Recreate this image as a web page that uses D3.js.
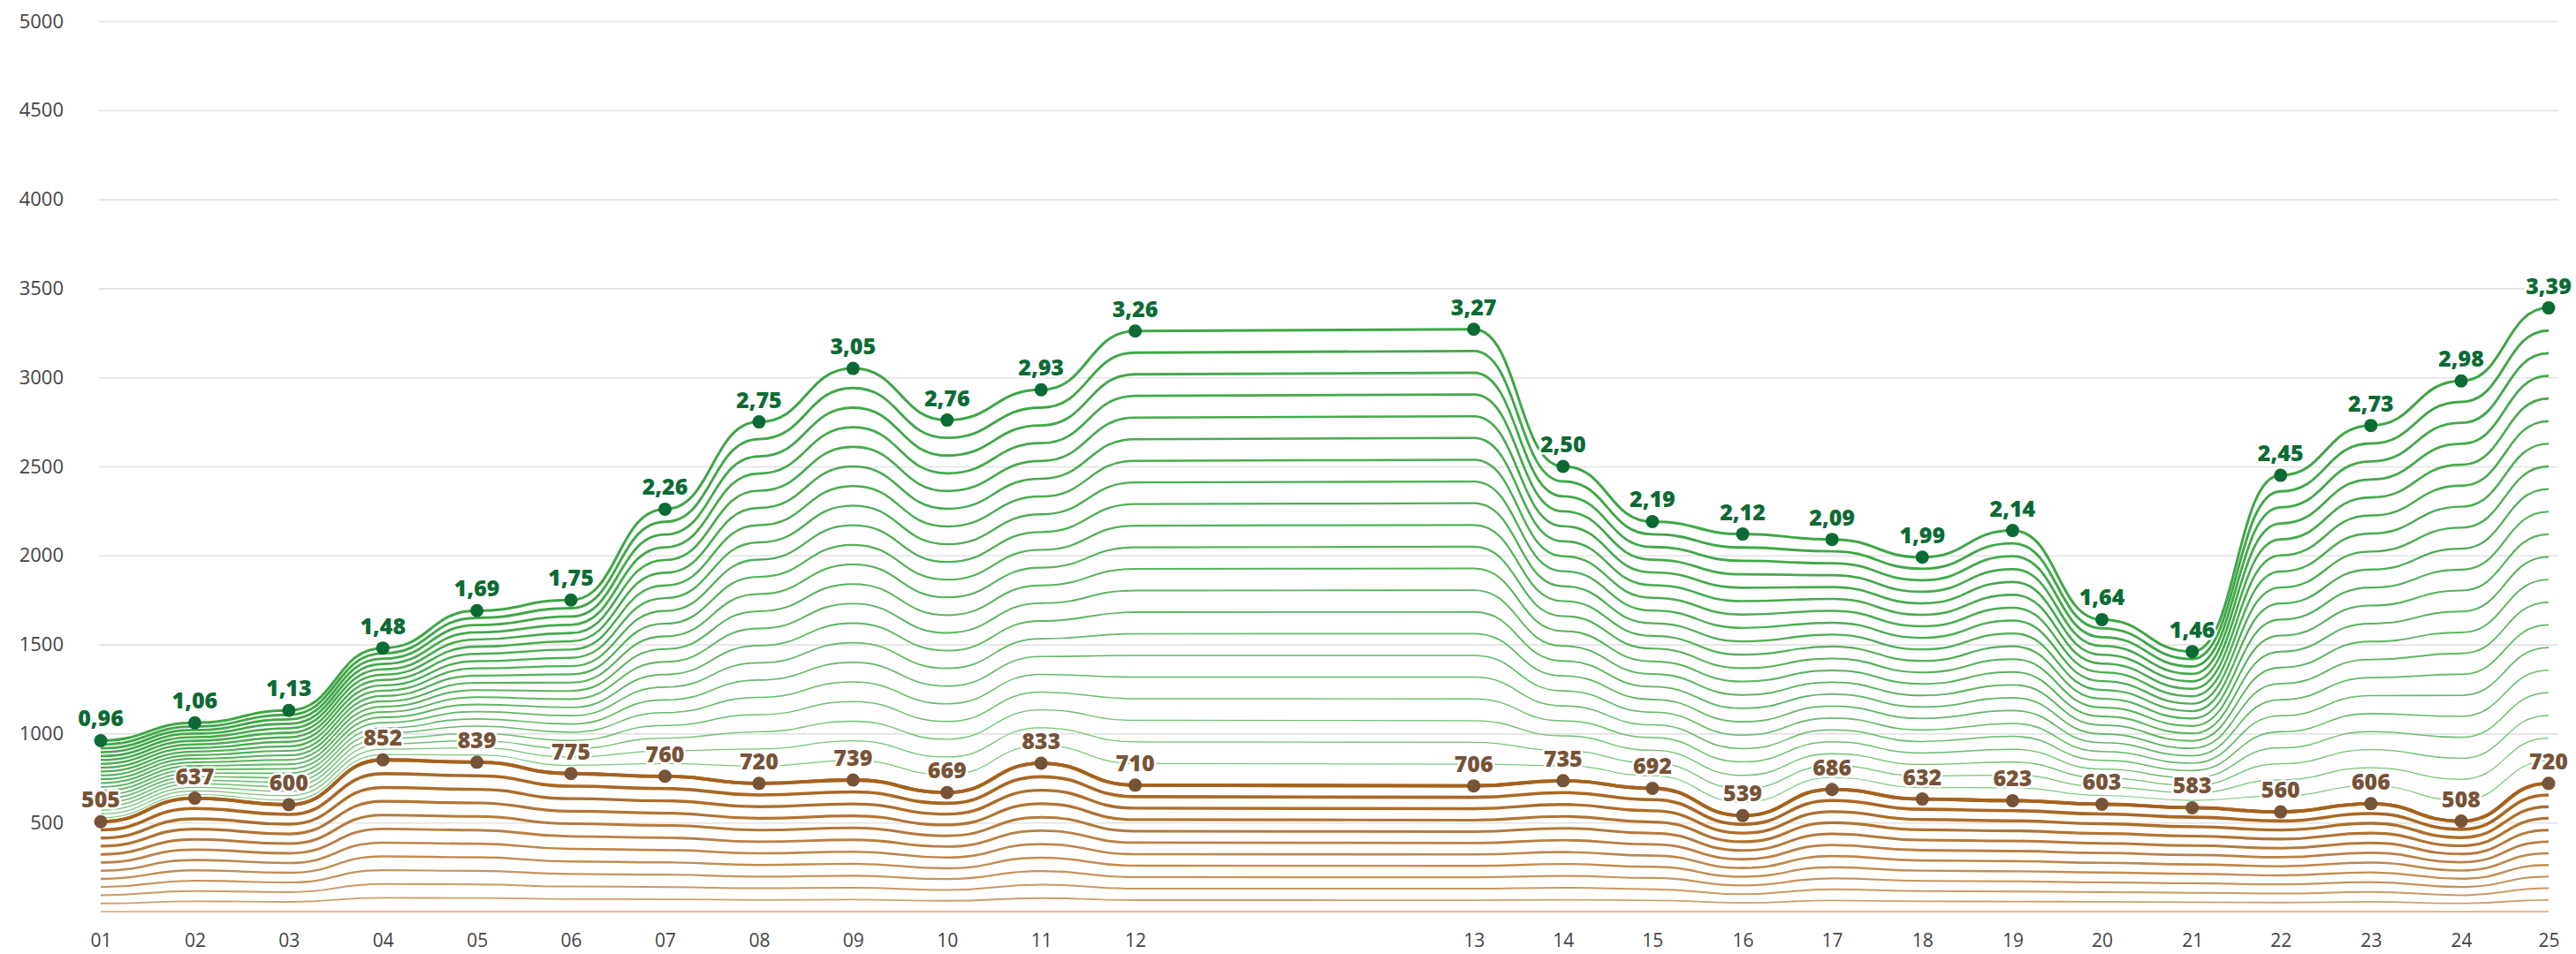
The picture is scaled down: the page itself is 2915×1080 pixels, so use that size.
<!DOCTYPE html>
<html>
<head>
<meta charset="utf-8">
<script src="https://cdn.jsdelivr.net/npm/d3@7"></script>
<style>
  body { margin: 0; background: #fff; }
  #chart text { font-family: "Open Sans", "DejaVu Sans", sans-serif; }
</style>
</head>
<body>
<div id="chart"></div>
<script>
// x categories and their (uneven) positions along the axis
const periods = ["01","02","03","04","05","06","07","08","09","10","11","12",
                 "13","14","15","16","17","18","19","20","21","22","23","24","25"];
const xPos = [0, 1, 2, 3, 4, 5, 6, 7, 8, 9, 10, 11,
              14.6, 15.55, 16.5, 17.46, 18.41, 19.37, 20.33, 21.28, 22.24, 23.18, 24.14, 25.1, 26.03];

// top (green) series, labelled in thousands
const greenTop = [0.96, 1.06, 1.13, 1.48, 1.69, 1.75, 2.26, 2.75, 3.05, 2.76, 2.93, 3.26,
                  3.27, 2.50, 2.19, 2.12, 2.09, 1.99, 2.14, 1.64, 1.46, 2.45, 2.73, 2.98, 3.39];
// lower (brown) series
const brownTop = [505, 637, 600, 852, 839, 775, 760, 720, 739, 669, 833, 710,
                  706, 735, 692, 539, 686, 632, 623, 603, 583, 560, 606, 508, 720];

const yTicks = [500, 1000, 1500, 2000, 2500, 3000, 3500, 4000, 4500, 5000];

const width = 2915;
const height = 1080;

const svg = d3.select("#chart")
              .append("svg")
              .attr("width", width)
              .attr("height", height);

const x = d3.scaleLinear()
            .domain([0, d3.max(xPos)])
            .range([114, 2884]);

const y = d3.scaleLinear()
            .domain([0, 5000])
            .range([1032, 24]);

// gridlines + y labels
const yAxis = svg.append("g")
   .attr("transform", "translate(112,0)")
   .call(d3.axisLeft(y).tickValues(yTicks).tickFormat(d3.format("d"))
           .tickSize(-(2895 - 112)).tickPadding(40));
yAxis.select(".domain").remove();
yAxis.selectAll("line").attr("stroke", "#e3e3e3").attr("stroke-width", 1.6);
yAxis.selectAll("text")
     .attr("fill", "#444")
     .style("font-size", "22px")
     .style("font-weight", 400);

// x labels
const xAxis = svg.append("g")
   .attr("transform", "translate(0,1032)")
   .call(d3.axisBottom(x).tickValues(xPos).tickFormat((d, i) => periods[i]).tickSize(0).tickPadding(25));
xAxis.select(".domain").remove();
xAxis.selectAll("text")
     .attr("fill", "#444")
     .style("font-size", "21px")
     .style("font-weight", 400);

const rows = periods.map((p, i) => ({ x: xPos[i], brown: brownTop[i], green: greenTop[i] * 1000 }));

const line = d3.line().curve(d3.curveBumpX);

// brown fan: from baseline up to the brown series
const nBrown = 11;
for (let k = 0; k <= nBrown; k++) {
  const t = k / nBrown;
  svg.append("path")
     .attr("d", line(rows.map(r => [x(r.x), y(r.brown * t)])))
     .attr("fill", "none")
     .attr("stroke", d3.interpolateRgb("#d2a574", "#a5621d")(t))
     .attr("stroke-width", 1.6 + 2.2 * t);
}

// green fan: from the brown series up to the green series
const nGreen = 21;
for (let k = 1; k <= nGreen; k++) {
  const t = k / nGreen;
  svg.append("path")
     .attr("d", line(rows.map(r => [x(r.x), y(r.brown + (r.green - r.brown) * t)])))
     .attr("fill", "none")
     .attr("stroke", d3.interpolateRgb("#8fd08f", "#3ea646")(Math.pow(t, 0.5)))
     .attr("stroke-width", 1.1 + 1.9 * t);
}

// redraw top brown line over green
svg.append("path")
   .attr("d", line(rows.map(r => [x(r.x), y(r.brown)])))
   .attr("fill", "none")
   .attr("stroke", "#a5621d")
   .attr("stroke-width", 3.8);

const fmtGreen = d => d.toFixed(2).replace(".", ",");

function addSeries(key, dotColor, fmt) {
  svg.selectAll(".dot-" + key)
     .data(rows)
     .enter()
     .append("circle")
     .attr("cx", d => x(d.x))
     .attr("cy", d => y(d[key]))
     .attr("r", 7.5)
     .attr("fill", dotColor);

  svg.selectAll(".lab-" + key)
     .data(rows)
     .enter()
     .append("text")
     .attr("x", d => x(d.x))
     .attr("y", d => y(d[key]) - 16)
     .attr("text-anchor", "middle")
     .attr("fill", dotColor)
     .attr("stroke", "#fff")
     .attr("stroke-width", 5)
     .attr("stroke-linejoin", "round")
     .attr("paint-order", "stroke")
     .style("font-size", "25px")
     .style("font-weight", 800)
     .text((d, i) => fmt(i));
}

addSeries("brown", "#775337", i => brownTop[i]);
addSeries("green", "#0c6b35", i => fmtGreen(greenTop[i]));
</script>
</body>
</html>
